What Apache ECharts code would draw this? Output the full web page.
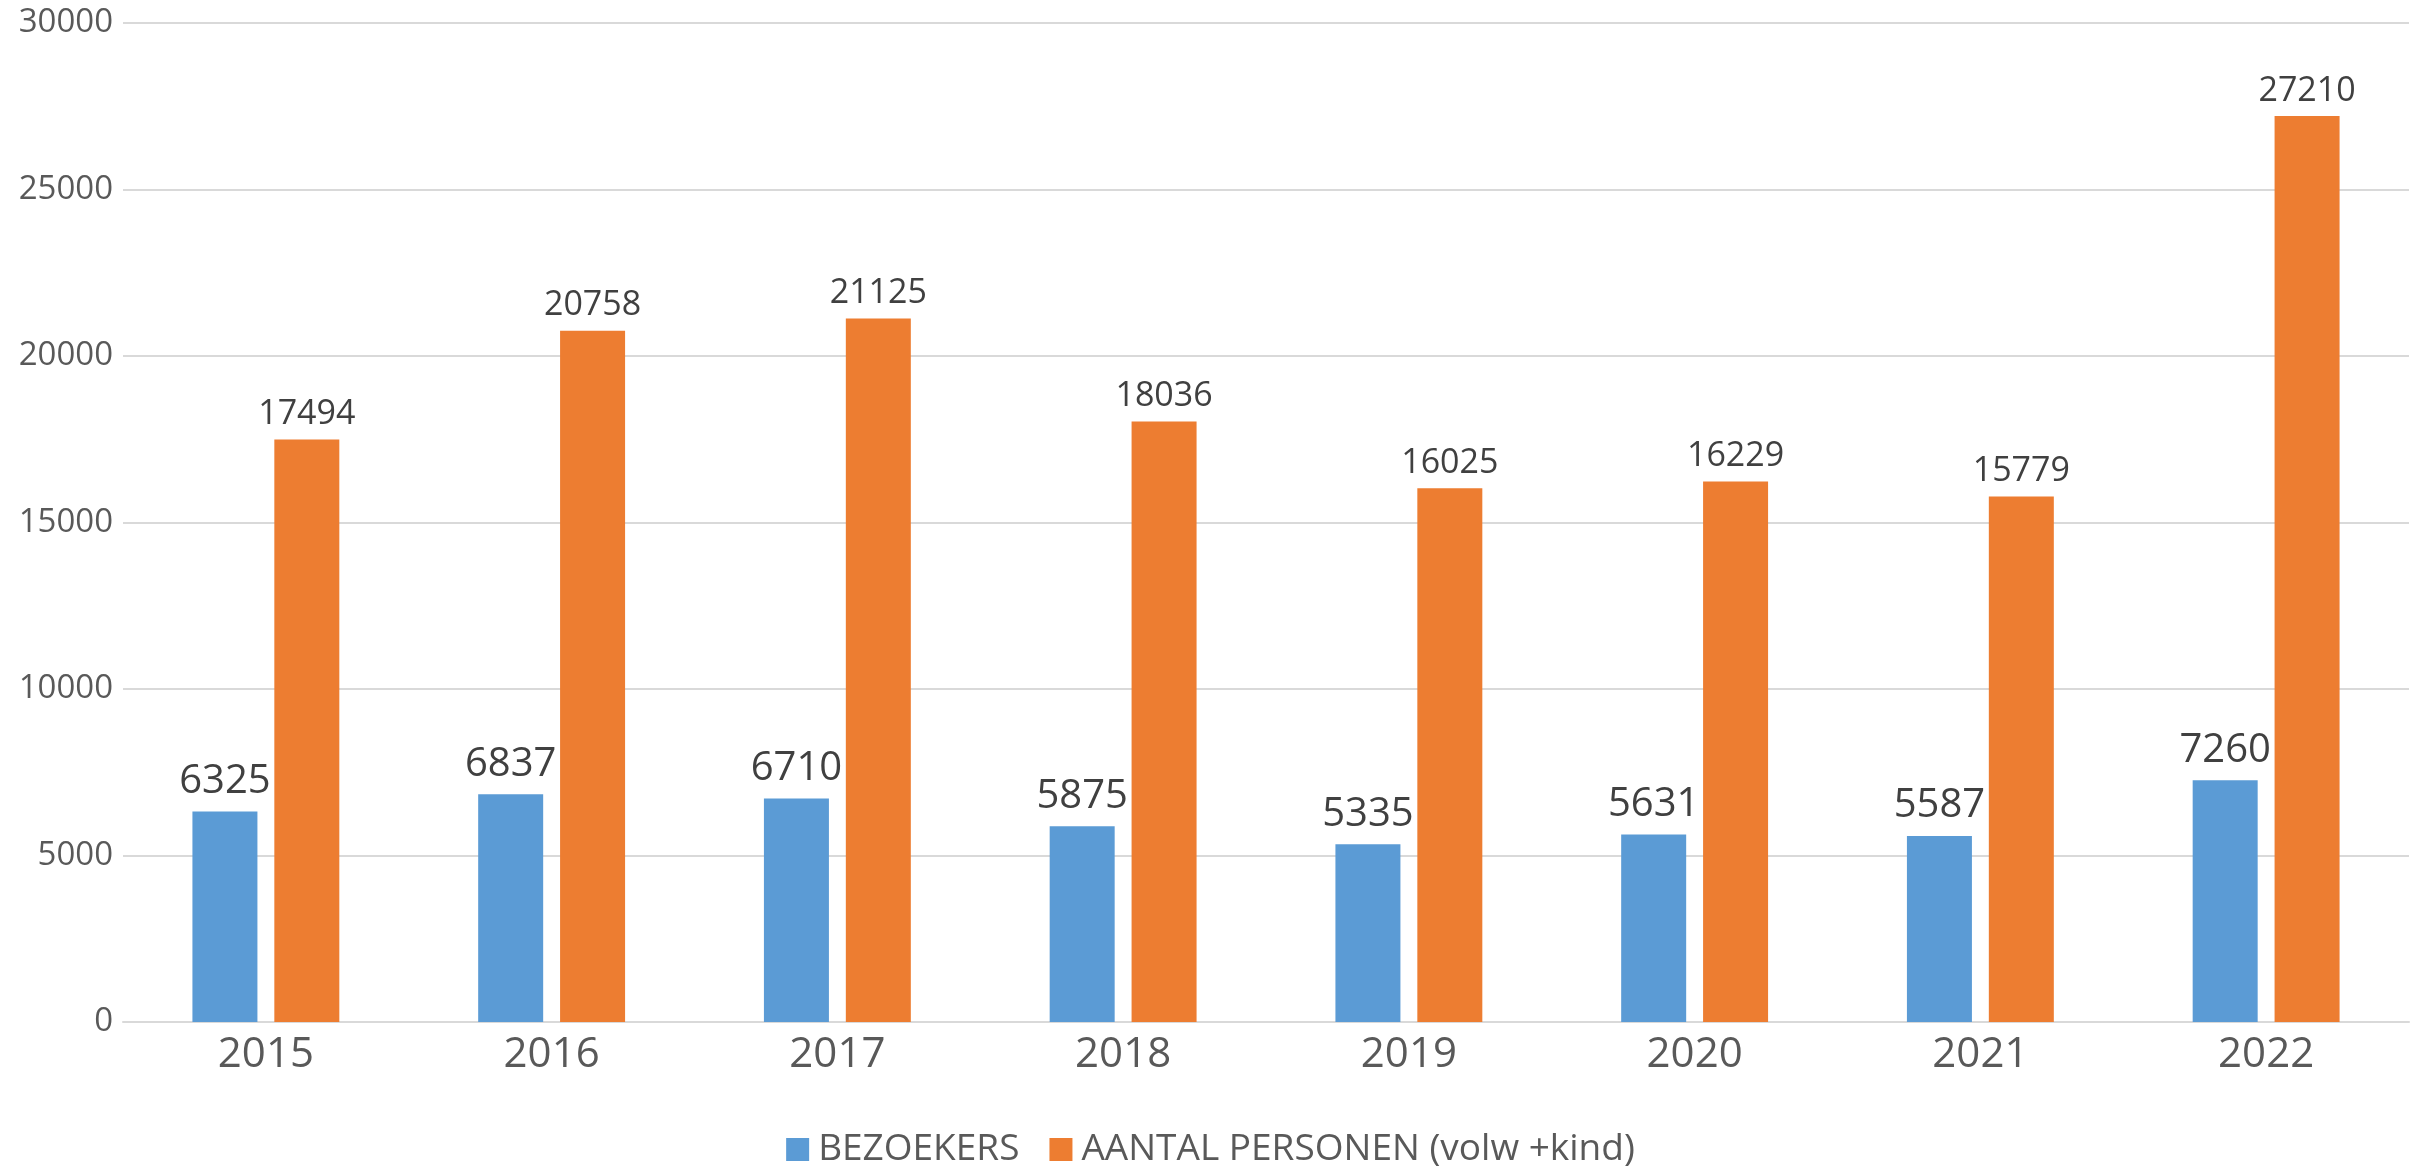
<!DOCTYPE html>
<html>
<head>
<meta charset="utf-8">
<script src="https://cdn.jsdelivr.net/npm/echarts@6/dist/echarts.min.js"></script>
<style>
  html, body { margin: 0; padding: 0; background: #fff; }
  #chart { width: 2421px; height: 1169px; }
</style>
</head>
<body>
<div id="chart"></div>
<script>
var years = ['2015', '2016', '2017', '2018', '2019', '2020', '2021', '2022'];
var bezoekers = [6325, 6837, 6710, 5875, 5335, 5631, 5587, 7260];
var personen = [17494, 20758, 21125, 18036, 16025, 16229, 15779, 27210];
var seriesNames = ['BEZOEKERS', 'AANTAL PERSONEN (volw +kind)'];

var font = "'Open Sans', 'DejaVu Sans', sans-serif";

var myChart = echarts.init(document.getElementById('chart'));

var option = {
    animation: false,
    textStyle: { fontFamily: font },
    color: ['#5B9BD5', '#ED7D31'],
    grid: { left: 123, right: 12, top: 23, bottom: 147 },
    legend: {
        data: seriesNames,
        left: 'center',
        top: 1131,
        padding: 0,
        icon: 'rect',
        itemWidth: 23,
        itemHeight: 23,
        itemGap: 30,
        textStyle: { fontSize: 37, color: '#595959', fontFamily: font, padding: [0, 0, 0, 4] }
    },
    xAxis: {
        type: 'category',
        data: years,
        axisLine: { lineStyle: { color: '#D9D9D9', width: 2 } },
        axisTick: { show: false },
        axisLabel: { fontSize: 42, color: '#595959', margin: 12 }
    },
    yAxis: {
        type: 'value',
        min: 0,
        max: 30000,
        interval: 5000,
        axisLine: { show: false },
        axisTick: { show: false },
        axisLabel: {
            fontSize: 33, color: '#595959', margin: 10,
            formatter: function (v) { return String(v); }
        },
        splitLine: { lineStyle: { color: '#D9D9D9', width: 2 } }
    },
    series: [{
        name: seriesNames[0],
        type: 'bar',
        data: bezoekers,
        barWidth: 65,
        barGap: '26%',
        label: { show: true, position: 'top', distance: 10, fontSize: 40, color: '#404040' }
    }, {
        name: seriesNames[1],
        type: 'bar',
        data: personen,
        barWidth: 65,
        label: { show: true, position: 'top', distance: 8, fontSize: 34, color: '#404040' }
    }]
};
myChart.setOption(option);
</script>
</body>
</html>
